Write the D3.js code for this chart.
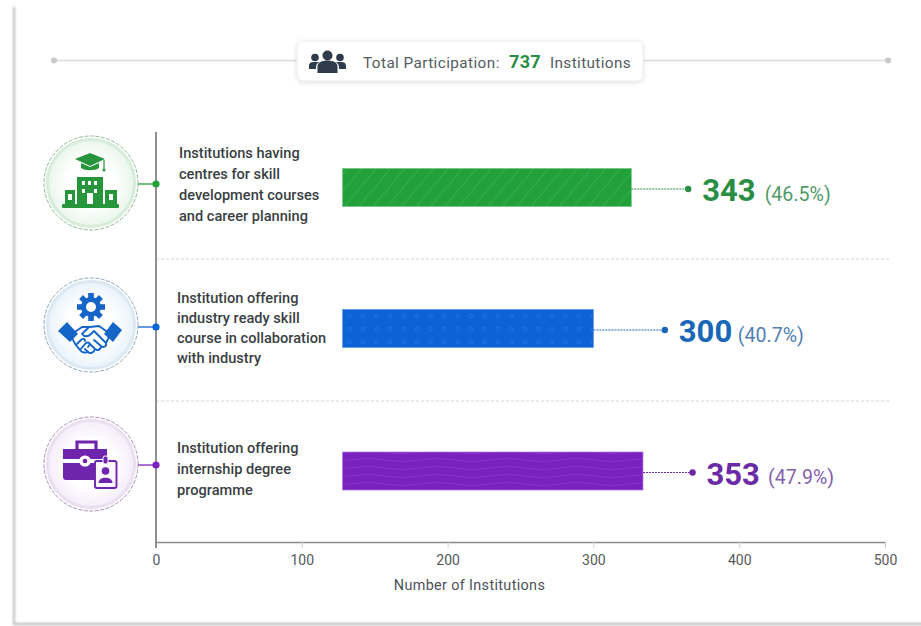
<!DOCTYPE html>
<html><head><meta charset="utf-8">
<script src="https://cdn.jsdelivr.net/npm/d3@7"></script>
<style>html,body{margin:0;padding:0;background:#fff}svg{display:block}text{font-family:Roboto,sans-serif}</style>
</head><body><svg id="c" width="921" height="626"></svg>
<script>
// ---- data ----
const categories = ["green","blue","purple"];
const categoryLines = [
  ["Institutions having","centres for skill","development courses","and career planning"],
  ["Institution offering","industry ready skill","course in collaboration","with industry"],
  ["Institution offering","internship degree","programme"]
];
const barStart = [128,128,128];     // bars are floated in the source graphic
const barEnd = [326,300,334];       // drawn end, as read against the axis
const leaderEnd = [365,349,368];    // leader dot, as read against the axis
const valueLabels = ["343","300","353"];
const shareLabels = ["(46.5%)","(40.7%)","(47.9%)"];
const xTicks = [0,100,200,300,400,500];
const barColors = ["#22a03a","#0d62d6","#7a22c0"];
const barEdges = ["#6cc77c","#5b97e6","#a978d8"];
const textColors = ["#2a8f45","#1a66b8","#6a2aa5"];
const shareColors = ["#4f9a68","#4f80b4","#8560ad"];
const soft = ["#e9f6eb","#e8f2fb","#f5ecfa"];
const rim = ["#d8ecdb","#dde8f2","#ebe0f0"];
const totalLabel = "737";

const svg = d3.select("#c");
const defs = svg.append("defs");
const shadow = defs.append("filter").attr("id","blur").attr("x","-20%").attr("y","-20%").attr("width","140%").attr("height","140%");
shadow.append("feGaussianBlur").attr("stdDeviation",1.3);
const pillShadow = defs.append("filter").attr("id","pill").attr("x","-10%").attr("y","-30%").attr("width","120%").attr("height","170%");
pillShadow.append("feDropShadow").attr("dx",0).attr("dy",1).attr("stdDeviation",2).attr("flood-color","#000").attr("flood-opacity",.13);
categories.forEach((c,i)=>{
  const g = defs.append("radialGradient").attr("id","m"+i);
  g.append("stop").attr("offset","55%").attr("stop-color","#fff");
  g.append("stop").attr("offset","100%").attr("stop-color",soft[i]);
});

// fill patterns
const hatch = defs.append("pattern").attr("id","p0").attr("patternUnits","userSpaceOnUse").attr("width",11).attr("height",11).attr("patternTransform","rotate(40)");
hatch.append("rect").attr("width",11).attr("height",11).attr("fill",barColors[0]);
hatch.append("line").attr("x1",0).attr("x2",0).attr("y1",0).attr("y2",11).attr("stroke","#4cb85e").attr("stroke-width",1);
const dots = defs.append("pattern").attr("id","p1").attr("patternUnits","userSpaceOnUse").attr("width",13.5).attr("height",13).attr("x",343).attr("y",310);
dots.append("rect").attr("width",13.5).attr("height",13).attr("fill",barColors[1]);
dots.append("circle").attr("cx",6.5).attr("cy",6).attr("r",1.8).attr("fill","none").attr("stroke","#2674de").attr("stroke-width",.8);
const wave = defs.append("pattern").attr("id","p2").attr("patternUnits","userSpaceOnUse").attr("width",70).attr("height",8);
wave.append("rect").attr("width",70).attr("height",8).attr("fill",barColors[2]);
wave.append("path").attr("d","M0 4C17 2 18 2 35 4S52 6 70 4").attr("fill","none").attr("stroke","#8a3ac8").attr("stroke-width",.8);

// scales
const x = d3.scaleLinear().domain([0,500]).range([156,885]);
const y = d3.scaleOrdinal().domain(categories).range([187.5,328.5,471]);
const iconY = d3.scaleOrdinal().domain(categories).range([183,325,464]);
const tickY = d3.scaleOrdinal().domain(categories).range([184,327,465]);
const barH = 38;

// card
svg.append("path").attr("d","M14 7V624H925").attr("fill","none").attr("stroke","#b4b4b4").attr("stroke-width",1.8).attr("filter","url(#blur)");
svg.append("path").attr("d","M14 7H925").attr("fill","none").attr("stroke","#e8e8e8").attr("stroke-width",1.2).attr("filter","url(#blur)");

// header rule
svg.append("line").attr("x1",54).attr("x2",888).attr("y1",60.5).attr("y2",60.5).attr("stroke","#dcdcdc").attr("stroke-width",1.5);
svg.selectAll(".hd").data([54,888]).enter().append("circle").attr("cx",d=>d).attr("cy",60.5).attr("r",3).attr("fill","#c9c9c9");
svg.append("rect").attr("x",297).attr("y",41).attr("width",346).attr("height",40).attr("rx",6).attr("fill","#fff").attr("stroke","#ececec").attr("filter","url(#pill)");
// people icon
const ppl = svg.append("g").attr("transform","translate(327,62)").attr("fill","#2f3a4a");
ppl.append("circle").attr("cx",.5).attr("cy",-6.5).attr("r",5);
ppl.append("circle").attr("cx",-12).attr("cy",-4.5).attr("r",3.8);
ppl.append("circle").attr("cx",13).attr("cy",-4.5).attr("r",3.8);
ppl.append("path").attr("d","M-9.5 11V4.5C-9.500.5-5-1.500.5-1.500S10.500.5 10.500 4.500V11z");
ppl.append("path").attr("d","M-18 7V3.500C-18 1-16 0-13.500 0H-7.500C-10 1-11 3-11 5.500V7z");
ppl.append("path").attr("d","M19 7V3.500C19 1 17 0 14.500 0H8.500C11 1 12 3 12 5.500V7z");
svg.append("text").attr("x",363).attr("y",67.5).attr("font-size",15.3).attr("letter-spacing",.42).attr("fill","#555b63").text("Total Participation:");
svg.append("text").attr("x",509).attr("y",67.5).attr("font-size",18).attr("font-weight",700).attr("letter-spacing",.3).attr("fill","#2a8f45").text(totalLabel);
svg.append("text").attr("x",550).attr("y",67.5).attr("font-size",15.3).attr("letter-spacing",.38).attr("fill","#555b63").text("Institutions");

// separators
svg.selectAll(".sep").data([259,401]).enter().append("line")
  .attr("x1",156).attr("x2",891).attr("y1",d=>d).attr("y2",d=>d)
  .attr("stroke","#d6d6d6").attr("stroke-dasharray","3 2");

// axes
const axisG = svg.append("g").attr("transform","translate(0,542)")
  .call(d3.axisBottom(x).tickValues(xTicks).tickSize(6).tickPadding(6).tickSizeOuter(0));
axisG.select(".domain").attr("stroke","#8c8c8c").attr("stroke-width",1.5);
axisG.selectAll(".tick line").attr("stroke","#cfcfcf");
axisG.selectAll(".tick text").attr("font-size",14).attr("fill","#55595e").attr("font-family","Roboto,sans-serif").attr("y",13.5).attr("dy","0.71em");
svg.append("line").attr("x1",156).attr("x2",156).attr("y1",132).attr("y2",548).attr("stroke","#858585").attr("stroke-width",1.8);
svg.append("text").attr("x",469.5).attr("y",590).attr("text-anchor","middle").attr("font-size",14.4).attr("fill","#4c5157").attr("letter-spacing",.35).text("Number of Institutions");

// category rows
const rows = svg.selectAll(".row").data(categories).enter().append("g").attr("class","row");
rows.append("line").attr("x1",137).attr("x2",156).attr("y1",c=>tickY(c)).attr("y2",c=>tickY(c)).attr("stroke",(c,i)=>barColors[i]).attr("stroke-width",1.3);
rows.append("circle").attr("cx",156).attr("cy",c=>tickY(c)).attr("r",3.6).attr("fill",(c,i)=>barColors[i]);
// medallions
rows.append("circle").attr("cx",91).attr("cy",c=>iconY(c)).attr("r",47).attr("fill","#fff").attr("stroke",(c,i)=>["#8fb89a","#8ea6bd","#a88bb8"][i]).attr("stroke-dasharray","4 1.5").attr("stroke-width",1);
rows.append("circle").attr("cx",91).attr("cy",c=>iconY(c)).attr("r",43.5).attr("fill",(c,i)=>`url(#m${i})`).attr("stroke",(c,i)=>rim[i]).attr("stroke-width",3);

// labels
rows.each(function(c,i){
  const lead = [21,20,21][i], top = [153,298,448][i], lx = [179,177,177][i];
  d3.select(this).selectAll(".cat").data(categoryLines[i]).enter().append("text")
    .attr("x",lx).attr("y",(d,k)=>top+lead*k+4.8).attr("font-size",14.6).attr("font-weight",500).attr("fill","#3a3f44").text(d=>d);
});
// bars
rows.append("rect").attr("x",(c,i)=>x(barStart[i])).attr("width",(c,i)=>x(barEnd[i])-x(barStart[i]))
  .attr("y",c=>y(c)-barH/2).attr("height",barH).attr("fill",(c,i)=>`url(#p${i})`)
  .attr("stroke",(c,i)=>barEdges[i]).attr("stroke-width",.7);
// leaders
rows.append("line").attr("x1",(c,i)=>x(barEnd[i])).attr("x2",(c,i)=>x(leaderEnd[i]))
  .attr("y1",c=>y(c)+1.5).attr("y2",c=>y(c)+1.5).attr("stroke",(c,i)=>textColors[i]).attr("stroke-dasharray","2 1").attr("stroke-width",1);
rows.append("circle").attr("cx",(c,i)=>x(leaderEnd[i])).attr("cy",c=>y(c)+1.5).attr("r",3.2).attr("fill",(c,i)=>textColors[i]);
rows.append("text").attr("x",(c,i)=>x(leaderEnd[i])+14).attr("y",c=>y(c)+13.5).attr("font-size",31).attr("font-weight",700).attr("fill",(c,i)=>textColors[i]).text((c,i)=>valueLabels[i]);
rows.append("text").attr("x",(c,i)=>x(leaderEnd[i])+[76.5,73,75.5][i]).attr("y",c=>y(c)+13).attr("font-size",19.6).attr("fill",(c,i)=>shareColors[i]).text((c,i)=>shareLabels[i]);

// icon glyphs
const gi = svg.append("g").attr("transform",`translate(91,${iconY("green")})`).attr("fill","#27953c");
gi.append("path").attr("d","M-16-24-1-30 14-24-1-17z");
gi.append("path").attr("d","M-10-20V-15C-6-12 4-12 8-15V-20L-1-16z");
gi.append("path").attr("d","M13-23V-14").attr("stroke","#27953c").attr("stroke-width",1.2);
gi.append("circle").attr("cx",13).attr("cy",-13).attr("r",1.5);
gi.append("path").attr("fill-rule","evenodd").attr("d","M-14-6H12V21H-14zM-9-2V2H-6V-2zM-3-2V2H0V-2zM3-2V2H6V-2zM-9 6V10H-6V6zM3 6V10H6V6zM-4 10V21H2V10z");
gi.append("path").attr("fill-rule","evenodd").attr("d","M-26 7H-16V21H-26zM-23 11V17H-19V11zM14 7H26V21H14zM18 11V17H22V11z");
gi.append("rect").attr("x",-29).attr("y",21).attr("width",57).attr("height",4).attr("rx",1);

const bi = svg.append("g").attr("transform",`translate(91,${iconY("blue")})`);
bi.selectAll(".t").data(d3.range(8).map(k=>k*45)).enter().append("rect").attr("x",-2.8).attr("y",-32).attr("width",5.6).attr("height",5).attr("fill","#1565c8")
  .attr("transform",d=>`rotate(${d},0,-18)`);
bi.append("circle").attr("cy",-18).attr("r",7.5).attr("fill","none").attr("stroke","#1565c8").attr("stroke-width",5);
bi.append("path").attr("d","M-33 6-24-3-13 9-21 17z").attr("fill","#1565c8");
bi.append("path").attr("d","M31 5 22-3 13 9 22 17z").attr("fill","#1565c8");
bi.append("path").attr("fill","none").attr("stroke","#1565c8").attr("stroke-width",1.9).attr("stroke-linejoin","round").attr("stroke-linecap","round")
  .attr("d","M-19 9-9 2H-1L8 1 18 8M-2 2-9 9C-7 12-3 12 0 9L3 6 15 18C16 22 12 23 10 21L3 15M10 21C10 25 6 26 4 24L-1 19M4 24C3 28-1 29-3 27L-6 24M-19 13C-17 18-14 22-11 25C-9 28-5 28-3 27M-11 25-6 19C-4 17-2 17-1 19L-3 22M-15 20-10 15C-8 13-6 14-6 16M18 12 15 18");

const pi = svg.append("g").attr("transform",`translate(91,${iconY("purple")})`);
pi.append("path").attr("d","M-14-15V-22H5V-15").attr("fill","none").attr("stroke","#6f24ad").attr("stroke-width",3.2);
pi.append("path").attr("d","M-28-15H16V-5H-.5A6 6 0 0 0-11.500-5H-28zM-28-1H-11.500A6 6 0 0 0-.5-1H10V16H-25Q-28 16-28 13z").attr("fill","#6f24ad");
pi.append("rect").attr("x",4).attr("y",-3).attr("width",21.5).attr("height",27).attr("rx",2).attr("fill","#fbf7fd").attr("stroke","#6f24ad").attr("stroke-width",1.9);
pi.append("circle").attr("cx",14.500).attr("cy",7).attr("r",3.8).attr("fill","#6f24ad");
pi.append("path").attr("d","M7.500 19C7.500 12 21.500 12 21.500 19z").attr("fill","#6f24ad");
pi.append("rect").attr("x",12).attr("y",-8).attr("width",5).attr("height",8).attr("rx",2).attr("fill","#6f24ad").attr("stroke","#fbf7fd").attr("stroke-width",1);
pi.append("circle").attr("cx",-6).attr("cy",-3).attr("r",3).attr("fill","#6f24ad").attr("stroke","#fbf7fd").attr("stroke-width",1.4);
</script></body></html>
